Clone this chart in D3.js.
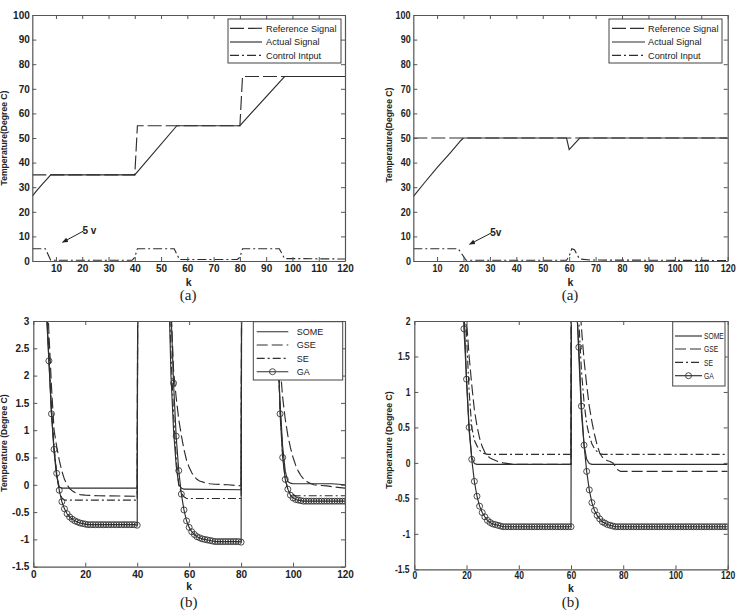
<!DOCTYPE html>
<html><head><meta charset="utf-8">
<script src="https://cdn.jsdelivr.net/npm/d3@7"></script>
<style>
body{margin:0;background:#fff}
svg{display:block;font-family:"Liberation Sans",Arial,sans-serif}
.sq text{transform-box:fill-box;transform-origin:center}
</style>
</head><body>
<script>
// ================= DATA =================
// shared tick values
const topKTicks = [10,20,30,40,50,60,70,80,90,100,110,120];
const topYTicks = [0,10,20,30,40,50,60,70,80,90,100];
const botKTicks = [0,20,40,60,80,100,120];
const blYTicks = [-1.5,-1,-0.5,0,0.5,1,1.5,2,2.5,3];
const brYTicks = [-1.5,-1,-0.5,0,0.5,1,1.5,2];

// Panel (a) left : [k, temperature]
const aLeftReference = [[1,35],[40,35],[41,55],[80,55],[81,75],[120,75]];
const aLeftActual = [[1,26.4],[3,29],[5,31.5],[7,33.8],[8,35],[40,35],[56,55],[80,55],[97,75],[120,75]];
const aLeftControl = [[1,5],[6,5],[8,0.3],[39,0.3],[40,1.5],[41,5],[55,5],[57,0.6],[79,0.6],[80,1.5],[81,5],[95,5],[97,1],[120,0.8]];

// Panel (a) right
const aRightReference = [[1,50],[120,50]];
const aRightActual = [[1,26.2],[5,31.5],[10,38],[15,44],[19,49],[20,50],[59,50],[60,45.3],[64,50],[120,50]];
const aRightControl = [[1,5],[18,5],[21,0.3],[59,0.3],[60,2],[61,5],[62,4.6],[63,2.5],[64,0.8],[68,0.4],[120,0.2]];

// Panel (b) left : error curves [k, value]
const bLeftSOME = [[1,20],[4,7],[5,3.3],[6,2.3],[7,1.3],[8,0.6],[9,0.15],[10,-0.04],[11,-0.06],[40,-0.06],
  [41,20],[52,3.9],[53,2.0],[54,1.0],[55,0.35],[56,0.0],[57,-0.06],[58,-0.08],[80,-0.09],
  [81,20],[93,3.5],[94,2.5],[95,1.5],[96,0.7],[97,0.25],[98,0.06],[99,0.03],[100,0.02],[115,0.02],[120,0.0]];
const bLeftGSE = [[1,20],[4,8],[5,4],[6,2.8],[7,1.8],[8,1.0],[9,0.7],[10,0.45],[11,0.25],[12,0.1],[13,0.0],[14,-0.07],[15,-0.11],[16,-0.14],[17,-0.16],[18,-0.18],[20,-0.19],[25,-0.2],[40,-0.21],
  [41,20],[52,4.5],[53,3.3],[54,2.1],[55,1.6],[56,1.2],[57,0.9],[58,0.65],[59,0.45],[60,0.32],[61,0.22],[62,0.15],[63,0.1],[64,0.07],[66,0.04],[68,0.02],[70,0.01],[75,0.0],[80,-0.02],
  [81,20],[93,4.5],[94,3.3],[95,2.2],[96,1.6],[97,1.2],[98,0.9],[99,0.68],[100,0.5],[101,0.36],[102,0.25],[103,0.17],[104,0.11],[105,0.07],[106,0.04],[107,0.02],[108,0.0],[110,-0.01],[113,-0.02],[116,-0.04],[120,-0.06]];
const bLeftSE = [[1,20],[4,7],[5,3.4],[6,2.4],[7,1.4],[8,0.7],[9,0.2],[10,-0.12],[11,-0.24],[12,-0.28],[40,-0.28],
  [41,20],[52,3.9],[53,2.4],[54,1.3],[55,0.5],[56,0.0],[57,-0.15],[58,-0.22],[59,-0.25],[80,-0.25],
  [81,20],[93,3.5],[94,2.6],[95,1.4],[96,0.55],[97,0.1],[98,-0.08],[99,-0.15],[100,-0.18],[101,-0.2],[120,-0.2]];
// GA sampled at every k = 1..120
const bLeftGA = [
  20,15,11,7,3.2,2.27,1.30,0.65,0.21,-0.10,
  -0.31,-0.44,-0.53,-0.59,-0.63,-0.66,-0.68,-0.70,-0.71,-0.72,
  -0.73,-0.73,-0.73,-0.73,-0.73,-0.73,-0.73,-0.73,-0.73,-0.73,
  -0.73,-0.73,-0.73,-0.73,-0.73,-0.73,-0.73,-0.73,-0.73,-0.74,
  20,18,16,14,12,10.5,9,7.5,6.5,5.5,
  4.6,3.9,3.2,1.86,0.89,0.26,-0.17,-0.46,-0.66,-0.78,
  -0.86,-0.91,-0.95,-0.97,-0.99,-1.00,-1.01,-1.02,-1.03,-1.04,
  -1.04,-1.04,-1.04,-1.04,-1.04,-1.04,-1.04,-1.04,-1.04,-1.05,
  20,17,15,13,11,9.5,8,7,6,5.2,
  4.5,3.9,3.5,3.2,1.30,0.50,0.10,-0.08,-0.19,-0.24,
  -0.27,-0.28,-0.29,-0.30,-0.30,-0.30,-0.30,-0.30,-0.30,-0.30,
  -0.30,-0.30,-0.30,-0.30,-0.30,-0.30,-0.30,-0.30,-0.30,-0.30];

// Panel (b) right
const bRightSOME = [[1,40],[18,3],[19,2.2],[20,1.15],[21,0.45],[22,0.08],[23,-0.01],[24,-0.02],[60,-0.02],
  [61,20],[62,2.4],[63,1.5],[64,0.7],[65,0.25],[66,0.05],[67,-0.01],[68,-0.02],[120,-0.02]];
const bRightGSE = [[1,40],[18,4],[19,2.8],[20,2.0],[21,1.5],[22,1.1],[23,0.75],[24,0.52],[25,0.35],[26,0.23],[27,0.15],[28,0.1],[29,0.07],[30,0.05],[32,0.02],[34,0.0],[36,-0.01],[38,-0.02],[60,-0.02],
  [61,20],[62,3],[63,2.5],[64,1.9],[65,1.45],[66,1.1],[67,0.8],[68,0.58],[69,0.4],[70,0.25],[71,0.14],[72,0.08],[73,0.05],[74,0.03],[75,0.02],[76,0.0],[77,-0.05],[78,-0.1],[79,-0.12],[120,-0.12]];
const bRightSE = [[1,40],[18,4],[19,2.6],[20,1.8],[21,1.0],[22,0.5],[23,0.32],[24,0.24],[25,0.18],[26,0.14],[27,0.13],[28,0.12],[60,0.12],
  [61,20],[62,2.8],[63,2.0],[64,1.3],[65,0.85],[66,0.55],[67,0.38],[68,0.27],[69,0.2],[70,0.16],[71,0.13],[72,0.12],[120,0.12]];
const bRightGA = [
  40,36,32,28,25,22,19,17,15,13,
  11,9.5,8,7,6,5,4,3,1.89,1.18,
  0.50,0.05,-0.26,-0.47,-0.61,-0.70,-0.76,-0.81,-0.84,-0.86,
  -0.87,-0.88,-0.89,-0.90,-0.90,-0.90,-0.90,-0.90,-0.90,-0.90,
  -0.90,-0.90,-0.90,-0.90,-0.90,-0.90,-0.90,-0.90,-0.90,-0.90,
  -0.90,-0.90,-0.90,-0.90,-0.90,-0.90,-0.90,-0.90,-0.90,-0.90,
  20,2.3,1.63,0.80,0.25,-0.12,-0.38,-0.56,-0.67,-0.74,
  -0.79,-0.83,-0.85,-0.87,-0.88,-0.89,-0.90,-0.90,-0.90,-0.90,
  -0.90,-0.90,-0.90,-0.90,-0.90,-0.90,-0.90,-0.90,-0.90,-0.90,
  -0.90,-0.90,-0.90,-0.90,-0.90,-0.90,-0.90,-0.90,-0.90,-0.90,
  -0.90,-0.90,-0.90,-0.90,-0.90,-0.90,-0.90,-0.90,-0.90,-0.90,
  -0.90,-0.90,-0.90,-0.90,-0.90,-0.90,-0.90,-0.90,-0.90,-0.90];

const aLegendLeft = ["Reference Signal","Actual Signal","Control Intput"];
const aLegendRight = ["Reference Signal","Actual Signal","Control Input"];
const bLegend = ["SOME","GSE","SE","GA"];

// ================= DRAWING =================
const LINE = "#2e2e2e", AXIS = "#555";
const svg = d3.select("body").append("svg").attr("width",741).attr("height",614);
const toPts = arr => arr.map((v,i)=>[i+1,v]);

function panel(c){
  const x = d3.scaleLinear().domain(c.xDomain).range([c.left,c.right]);
  const y = d3.scaleLinear().domain(c.yDomain).range([c.bottom,c.top]);
  const g = svg.append("g").attr("class", c.sx<1 ? "sq":"");
  svg.append("clipPath").attr("id","clip"+c.id).append("rect")
    .attr("x",c.left).attr("y",c.top).attr("width",c.right-c.left).attr("height",c.bottom-c.top);
  const plot = g.append("g").attr("clip-path",`url(#clip${c.id})`);
  const line = d3.line().x(d=>x(d[0])).y(d=>y(d[1]));
  c.series.forEach(s=>{
    plot.append("path").datum(s.points).attr("d",line).attr("fill","none")
      .attr("stroke",LINE).attr("stroke-width",1.15).attr("stroke-dasharray",s.dash||null);
    if(s.marker){
      plot.append("g").selectAll("circle").data(s.points).join("circle")
        .attr("cx",d=>x(d[0])).attr("cy",d=>y(d[1])).attr("r",3)
        .attr("fill","none").attr("stroke",LINE).attr("stroke-width",0.85);
    }
  });
  const fmt = d=>String(d);
  const styleAx = sel=>{
    sel.selectAll("path.domain").attr("stroke",AXIS).attr("stroke-width",1.2);
    sel.selectAll(".tick line").attr("stroke",AXIS);
    sel.selectAll("text").attr("font-size",10).attr("font-weight","bold").attr("fill","#222")
      .attr("font-family","Liberation Sans, Arial, sans-serif");
    if(c.sx<1) sel.selectAll("text").style("transform",`scaleX(${c.sx})`);
  };
  g.append("g").attr("transform",`translate(0,${c.bottom})`)
    .call(d3.axisBottom(x).tickValues(c.xTicks).tickSizeInner(-4).tickSizeOuter(0).tickPadding(c.xPad).tickFormat(fmt)).call(styleAx);
  g.append("g").attr("transform",`translate(0,${c.top})`)
    .call(d3.axisTop(x).tickValues(c.xTicks).tickSizeInner(-4).tickSizeOuter(0).tickFormat(()=>"")).call(styleAx);
  g.append("g").attr("transform",`translate(${c.left},0)`)
    .call(d3.axisLeft(y).tickValues(c.yTicks).tickSizeInner(-4).tickSizeOuter(0).tickPadding(c.yPad).tickFormat(fmt)).call(styleAx);
  g.append("g").attr("transform",`translate(${c.right},0)`)
    .call(d3.axisRight(y).tickValues(c.yTicks).tickSizeInner(-4).tickSizeOuter(0).tickFormat(()=>"")).call(styleAx);

  // legend
  const L = c.legend;
  const lg = g.append("g");
  lg.append("rect").attr("x",L.box[0]).attr("y",L.box[1]).attr("width",L.box[2]).attr("height",L.box[3])
    .attr("fill","#fff").attr("stroke","#444").attr("stroke-width",1);
  c.series.forEach((s,i)=>{
    const yy = L.rows[i];
    lg.append("line").attr("x1",L.sample[0]).attr("x2",L.sample[1]).attr("y1",yy).attr("y2",yy)
      .attr("stroke",LINE).attr("stroke-width",1.15).attr("stroke-dasharray",s.dash||null);
    if(s.marker) lg.append("circle").attr("cx",(L.sample[0]+L.sample[1])/2).attr("cy",yy).attr("r",3)
      .attr("fill","none").attr("stroke",LINE).attr("stroke-width",0.85);
    const t = lg.append("text").attr("x",L.textX).attr("y",yy+3.3).attr("font-size",L.fs).attr("fill","#1a1a1a").text(L.labels[i]);
    if(L.tsx) t.style("transform-box","fill-box").style("transform-origin","left center").style("transform",`scaleX(${L.tsx})`);
  });

  // axis titles
  g.append("text").attr("transform",`translate(${c.yl[0]},${c.yl[1]}) rotate(-90)`).attr("text-anchor","middle")
    .attr("font-size",8.6).attr("font-weight","bold").attr("fill","#222").text(c.yTitle);
  g.append("text").attr("x",(c.left+c.right)/2).attr("y",c.kY).attr("text-anchor","middle")
    .attr("font-size",10.5).attr("font-weight","bold").attr("fill","#222").text("k");
  g.append("text").attr("x",(c.left+c.right)/2 - 0.5).attr("y",c.capY).attr("text-anchor","middle")
    .attr("font-size",15).attr("font-family","Liberation Serif, Times New Roman, serif").attr("fill","#222").text(c.caption);
  return {x,y,g};
}

const DASH_A = "14,4", DASHDOT_A = "9,3,2,3";
const DASH_B = "11,4", DASHDOT_B = "8,3,2,3";

const p1 = panel({id:1,left:32.3,right:345,top:15,bottom:261,xDomain:[1,120],yDomain:[0,100],
  xTicks:topKTicks,yTicks:topYTicks,xPad:4,yPad:2.5,sx:1,
  series:[{points:aLeftReference,dash:DASH_A},{points:aLeftActual},{points:aLeftControl,dash:DASHDOT_A}],
  legend:{box:[228,19,113,44],rows:[28.3,42,55.3],sample:[230,262],textX:266,fs:9.2,labels:aLegendLeft},
  yTitle:"Temperature(Degree C)",yl:[7,138],kY:286,capY:300,caption:"(a)"});
const p2 = panel({id:2,left:413.3,right:727.7,top:15,bottom:261,xDomain:[1,120],yDomain:[0,100],
  xTicks:topKTicks,yTicks:topYTicks,xPad:4,yPad:2,sx:0.9,
  series:[{points:aRightReference,dash:DASH_A},{points:aRightActual},{points:aRightControl,dash:DASHDOT_A}],
  legend:{box:[609,19,113,44],rows:[28.3,42,55.3],sample:[612,645],textX:648,fs:9.2,labels:aLegendRight},
  yTitle:"Temperature(Degree C)",yl:[389,138],kY:286,capY:300,caption:"(a)"});
const p3 = panel({id:3,left:33.3,right:345,top:321,bottom:566.7,xDomain:[0,120],yDomain:[-1.5,3],
  xTicks:botKTicks,yTicks:blYTicks,xPad:4,yPad:4,sx:1,
  series:[{points:bLeftSOME},{points:bLeftGSE,dash:DASH_B},{points:bLeftSE,dash:DASHDOT_B},{points:toPts(bLeftGA),marker:true}],
  legend:{box:[253.3,321.7,89.4,58.3],rows:[331.7,345,358.3,371.7],sample:[256.7,288.3],textX:296.7,fs:9,labels:bLegend},
  yTitle:"Temperature (Degree C)",yl:[7,443],kY:590,capY:607,caption:"(b)"});
const p4 = panel({id:4,left:414.3,right:727.7,top:321,bottom:569.3,xDomain:[0,120],yDomain:[-1.5,2],
  xTicks:botKTicks,yTicks:brYTicks,xPad:3,yPad:3.5,sx:0.85,
  series:[{points:bRightSOME},{points:bRightGSE,dash:DASH_B},{points:bRightSE,dash:DASHDOT_B},{points:toPts(bRightGA),marker:true}],
  legend:{box:[672.7,321.7,52.3,64.3],rows:[336,349,362.3,375.7],sample:[675,702],textX:704,fs:9,tsx:0.75,labels:bLegend},
  yTitle:"Temperature (Degree C)",yl:[388.5,443],kY:592,capY:607,caption:"(b)"});

// annotations "5 v" with arrows
svg.append("defs").append("marker").attr("id","ah").attr("viewBox","0 0 10 10").attr("refX",9).attr("refY",5)
  .attr("markerWidth",6).attr("markerHeight",6).attr("orient","auto")
  .append("path").attr("d","M0,1 L10,5 L0,9 Z").attr("fill","#222");
function note(p, txt, tk, tv, hk, hv, dx){
  p.g.append("line").attr("x1",p.x(tk)).attr("y1",p.y(tv)).attr("x2",p.x(hk)).attr("y2",p.y(hv))
    .attr("stroke","#222").attr("stroke-width",1).attr("marker-end","url(#ah)");
  p.g.append("text").attr("x",p.x(tk)+dx).attr("y",p.y(tv)+3.5).attr("font-size",10).attr("font-weight","bold")
    .attr("fill","#222").text(txt);
}
note(p1,"5 v",20.5,12.2,12.5,7.6,-1);
note(p2,"5v",30.5,11.4,22.3,6.8,-1);
</script>
</body></html>
